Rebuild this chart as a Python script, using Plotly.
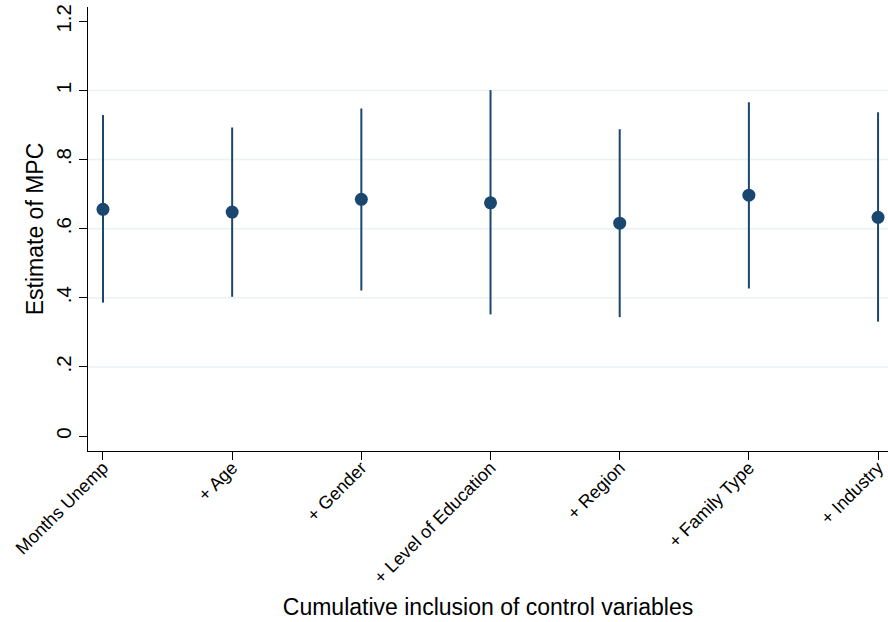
import plotly.graph_objects as go

categories = ["Months Unemp", "+ Age", "+ Gender", "+ Level of Education",
              "+ Region", "+ Family Type", "+ Industry"]
estimate = [0.656, 0.648, 0.685, 0.675, 0.616, 0.697, 0.633]
ci_upper = [0.929, 0.893, 0.948, 1.001, 0.888, 0.966, 0.937]
ci_lower = [0.386, 0.403, 0.421, 0.352, 0.344, 0.427, 0.331]

y_tickvals = [0, 0.2, 0.4, 0.6, 0.8, 1.0, 1.2]
y_ticktext = ["0", ".2", ".4", ".6", ".8", "1", "1.2"]
grid_vals = [0.2, 0.4, 0.6, 0.8, 1.0]

navy = "#1a476f"
font_family = "Liberation Sans, Arial, sans-serif"

x_idx = list(range(len(categories)))
err_plus = [u - e for u, e in zip(ci_upper, estimate)]
err_minus = [e - l for e, l in zip(estimate, ci_lower)]

fig = go.Figure()
fig.add_trace(go.Scatter(
    x=x_idx, y=estimate, mode="markers",
    marker=dict(color=navy, size=13, line=dict(width=0)),
    error_y=dict(type="data", symmetric=False, array=err_plus, arrayminus=err_minus,
                 color=navy, thickness=2, width=0),
    showlegend=False, cliponaxis=False,
))

shapes = [dict(type="line", xref="paper", yref="y", x0=0, x1=1, y0=v, y1=v,
               line=dict(color="#eaf2f3", width=1.5), layer="below") for v in grid_vals]

fig.update_layout(
    width=888, height=622,
    margin=dict(l=88, r=0, t=7, b=171),
    paper_bgcolor="white", plot_bgcolor="white",
    font=dict(family=font_family, color="black"),
    shapes=shapes,
    xaxis=dict(
        range=[-0.116, 6.077], automargin=False,
        tickmode="array", tickvals=x_idx, ticktext=categories,
        tickangle=-45, tickfont=dict(size=18), ticklabelstandoff=-10,
        ticks="outside", ticklen=8, tickwidth=1.3, tickcolor="black",
        showline=True, linecolor="black", linewidth=1.3,
        showgrid=False, zeroline=False,
        title=dict(text="Cumulative inclusion of control variables",
                   font=dict(size=23), standoff=12),
    ),
    yaxis=dict(
        range=[-0.0434, 1.2417], automargin=False,
        tickmode="array", tickvals=y_tickvals, ticktext=y_ticktext,
        tickangle=-90, tickfont=dict(size=20.5),
        ticks="outside", ticklen=8, tickwidth=1.3, tickcolor="black",
        showline=True, linecolor="black", linewidth=1.3,
        showgrid=False, zeroline=False,
        title=dict(text="Estimate of MPC", font=dict(size=23), standoff=1),
    ),
)

fig.write_html("out.html", config={"displayModeBar": False},
               post_script="document.body.style.margin='0';")
